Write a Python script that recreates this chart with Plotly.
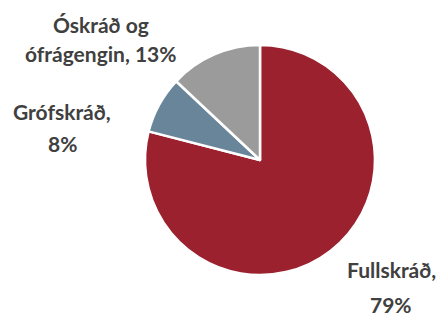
import plotly.graph_objects as go

categories = ["Fullskráð", "Grófskráð", "Óskráð og ófrágengin"]
shares = [79, 8, 13]
colors = ["#9b212f", "#69859a", "#9b9b9b"]

# label lines per slice (category text split over lines, share appended)
label_lines = [
    ["Fullskráð,", "{}%"],
    ["Grófskráð,", "{}%"],
    ["Óskráð og", "ófrágengin, {}%"],
]
# anchor (x center, first-line y, line gap) in pixels from top-left
label_pos = [
    (391, 279, 35),
    (62, 121, 32),
    (101, 34, 29),
]

W, H = 442, 320

fig = go.Figure(
    go.Pie(
        labels=categories,
        values=shares,
        sort=False,
        direction="clockwise",
        rotation=0,
        marker=dict(colors=colors, line=dict(color="white", width=2.5)),
        textinfo="none",
        hoverinfo="label+percent",
        domain=dict(x=[145 / W, 375 / W], y=[45 / H, 275 / H]),
        showlegend=False,
    )
)

font = dict(family="Lato", size=21, color="#404040")
annotations = []
for lines, (cx, y0, gap), val in zip(label_lines, label_pos, shares):
    for i, line in enumerate(lines):
        text = line.format(val) if "{}" in line else line
        annotations.append(
            dict(
                text="<b>" + text + "</b>",
                x=cx / W,
                y=1 - (y0 + i * gap) / H,
                xref="paper",
                yref="paper",
                xanchor="center",
                yanchor="bottom",
                yshift=-5,
                showarrow=False,
                font=font,
            )
        )

fig.update_layout(
    width=W,
    height=H,
    margin=dict(l=0, r=0, t=0, b=0),
    paper_bgcolor="white",
    plot_bgcolor="white",
    annotations=annotations,
)

fig.write_html("out.html")
